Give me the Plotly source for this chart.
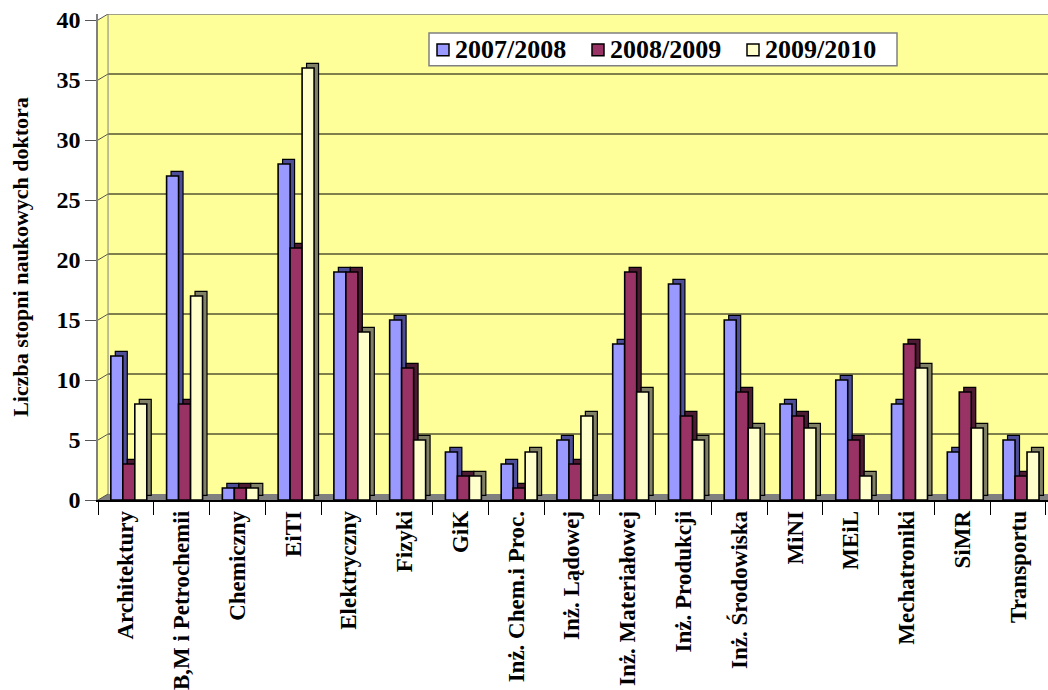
import plotly.graph_objects as go

# Wydziały (kategorie osi X)
wydzialy = [
    "Architektury", "B,M i Petrochemii", "Chemiczny", "EiTI", "Elektryczny",
    "Fizyki", "GiK", "Inż. Chem.i Proc.", "Inż. Lądowej", "Inż. Materiałowej",
    "Inż. Produkcji", "Inż. Środowiska", "MiNI", "MEiL", "Mechatroniki",
    "SiMR", "Transportu",
]

# Liczba stopni naukowych doktora w kolejnych latach akademickich
rok_2007_2008 = [12, 27, 1, 28, 19, 15, 4, 3, 5, 13, 18, 15, 8, 10, 8, 4, 5]
rok_2008_2009 = [3, 8, 1, 21, 19, 11, 2, 1, 3, 19, 7, 9, 7, 5, 13, 9, 2]
rok_2009_2010 = [8, 17, 1, 36, 14, 5, 2, 4, 7, 9, 5, 6, 6, 2, 11, 6, 4]

lata = ["2007/2008", "2008/2009", "2009/2010"]
y_ticks = [0, 5, 10, 15, 20, 25, 30, 35, 40]

serie = [rok_2007_2008, rok_2008_2009, rok_2009_2010]
kolory_przod = ["#9999FF", "#993366", "#FFFFCC"]
kolory_bok = ["#4D4D99", "#4D1A33", "#808066"]
przesuniecia = [-0.27, -0.055, 0.16]
SZER = 0.215

# głębokość słupków (efekt 3D) w jednostkach osi
DX, DY = 0.08, 0.38
# przesunięcie tylnej ściany
WX, WY = 0.18, 0.5
X_MIN, X_MAX = -0.5, 16.536
Y_MAX = 40.5

# obszar wykresu w pikselach (do przeliczania pozycji legendy)
W, H = 1048, 690
M_L, M_R, M_T, M_B = 98, 0, 14, 188
PW, PH = W - M_L - M_R, H - M_T - M_B


def px(xp):
    return (xp - M_L) / PW


def py(yp):
    return (H - M_B - yp) / PH


fig = go.Figure()

# boczne/górne ścianki słupków
for vals, off, kol in zip(serie, przesuniecia, kolory_bok):
    fig.add_trace(go.Bar(
        x=wydzialy, y=vals, base=DY, offset=off + DX, width=SZER,
        marker=dict(color=kol, line=dict(color="black", width=1.2)),
        showlegend=False, hoverinfo="skip",
    ))

# przednie ścianki słupków
for vals, off, kol, nazwa in zip(serie, przesuniecia, kolory_przod, lata):
    fig.add_trace(go.Bar(
        x=wydzialy, y=vals, offset=off, width=SZER, name=nazwa,
        marker=dict(color=kol, line=dict(color="black", width=1.6)),
        showlegend=False,
    ))

shapes = []
# podłoga
shapes.append(dict(
    type="path", xref="x", yref="y", layer="below",
    path=f"M {X_MIN},0 L {X_MIN + WX},{WY} L {X_MAX + 1},{WY} L {X_MAX + 1},0 Z",
    fillcolor="#808080", line=dict(width=0),
))
# biały narożnik nad lewą ścianą
shapes.append(dict(
    type="path", xref="x", yref="y", layer="below",
    path=f"M {X_MIN},{Y_MAX - WY} L {X_MIN},{Y_MAX} L {X_MIN + WX},{Y_MAX} Z",
    fillcolor="white", line=dict(width=0),
))
# linie siatki na tylnej ścianie i skosy na lewej ścianie
for v in y_ticks:
    if 0 < v < 40:
        shapes.append(dict(
            type="line", xref="x", yref="y", layer="below",
            x0=X_MIN + WX, x1=X_MAX + 1, y0=v + WY, y1=v + WY,
            line=dict(color="black", width=1),
        ))
    shapes.append(dict(
        type="line", xref="x", yref="y", layer="below",
        x0=X_MIN, x1=X_MIN + WX, y0=v, y1=v + WY,
        line=dict(color="#555555", width=1),
    ))
shapes.append(dict(
    type="line", xref="x", yref="y", layer="below",
    x0=X_MIN + WX, x1=X_MAX + 1, y0=Y_MAX, y1=Y_MAX,
    line=dict(color="#808080", width=1.5),
))
shapes.append(dict(
    type="line", xref="x", yref="y", layer="below",
    x0=X_MIN + WX, x1=X_MIN + WX, y0=WY, y1=Y_MAX,
    line=dict(color="#808080", width=1),
))

czcionka = "Liberation Serif"


def b(t):
    return f"<b>{t}</b>"


# legenda: ramka, kwadraciki i opisy serii
annotations = []
LEG_X0, LEG_X1, LEG_Y0, LEG_Y1 = 429, 897, 33, 66
shapes.append(dict(
    type="rect", xref="paper", yref="paper",
    x0=px(LEG_X0), x1=px(LEG_X1), y0=py(LEG_Y1), y1=py(LEG_Y0),
    fillcolor="white", line=dict(color="#808080", width=1.5),
))
for i, (nazwa, kol) in enumerate(zip(lata, kolory_przod)):
    sx = 437 + i * 155
    shapes.append(dict(
        type="rect", xref="paper", yref="paper",
        x0=px(sx), x1=px(sx + 12), y0=py(56), y1=py(44),
        fillcolor=kol, line=dict(color="black", width=1.5),
    ))
    annotations.append(dict(
        xref="paper", yref="paper", x=px(sx + 16), y=py(50),
        xanchor="left", yanchor="middle", showarrow=False,
        text=b(nazwa), font=dict(family=czcionka, size=26, color="black"),
    ))

fig.update_layout(
    width=W, height=H,
    margin=dict(l=M_L, r=M_R, t=M_T, b=M_B),
    paper_bgcolor="white",
    plot_bgcolor="#FFFF99",
    barmode="overlay",
    shapes=shapes,
    annotations=annotations,
    showlegend=False,
    font=dict(family=czcionka, color="black"),
    xaxis=dict(
        type="category", range=[X_MIN, X_MAX],
        tickvals=wydzialy, ticktext=[b(w) for w in wydzialy],
        showgrid=False, zeroline=False,
        showline=True, linecolor="black", linewidth=1.5,
        ticks="outside", tickson="boundaries", ticklen=13,
        tickcolor="black", tickwidth=1,
        tickangle=-90,
        tickfont=dict(family=czcionka, size=23),
    ),
    yaxis=dict(
        range=[0, Y_MAX], tickvals=y_ticks, ticktext=[b(v) for v in y_ticks],
        showgrid=False, zeroline=False,
        showline=True, linecolor="#808080", linewidth=1.5,
        ticks="outside", ticklen=11, tickcolor="#555555",
        tickfont=dict(family=czcionka, size=24),
        title=dict(text=b("Liczba stopni naukowych doktora"),
                   font=dict(family=czcionka, size=22),
                   standoff=22),
    ),
)

fig.write_html("out.html")
